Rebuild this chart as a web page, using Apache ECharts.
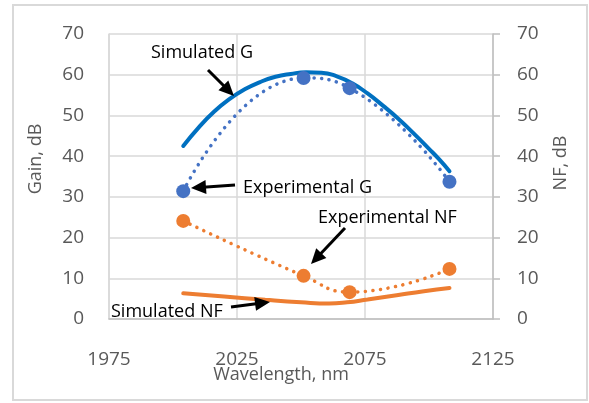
<!DOCTYPE html>
<html><head><meta charset="utf-8">
<script src="https://cdn.jsdelivr.net/npm/echarts@6/dist/echarts.min.js"></script>
<style>html,body{margin:0;padding:0;background:#fff}#c{width:589px;height:403px}</style>
</head><body><div id="c"></div><script>
// ---- data ----
var xTicks = [1975, 2025, 2075, 2125];
var yTicks = [0, 10, 20, 30, 40, 50, 60, 70];
var expWl = [2004, 2051, 2069, 2108];
var expGain = [31.4, 59.2, 56.7, 33.7];
var expNF = [24.1, 10.6, 6.6, 12.3];
var simWlG = [2004, 2010, 2016, 2022, 2028, 2034, 2040, 2046, 2052, 2058, 2064, 2070, 2076, 2082, 2088, 2094, 2100, 2104, 2108];
var simGain = [42.5, 47.0, 50.9, 54.0, 56.4, 58.2, 59.5, 60.2, 60.6, 60.5, 59.6, 57.9, 55.4, 52.4, 49.2, 45.6, 41.8, 39.2, 36.3];
var simWlNF = [2004, 2020, 2036, 2050, 2061, 2068, 2076, 2088, 2098, 2108];
var simNF = [6.3, 5.5, 4.7, 4.1, 3.8, 4.1, 4.8, 5.9, 6.8, 7.6];

function zip(a, b) { return a.map(function (v, i) { return [v, b[i]]; }); }

var FONT = 'Open Sans';
var chart = echarts.init(document.getElementById('c'));

function arrow(x1, y1, x2, y2) {
  var dx = x2 - x1, dy = y2 - y1, L = Math.sqrt(dx * dx + dy * dy);
  var ux = dx / L, uy = dy / L, hl = 15, hw = 7;
  var bx = x2 - ux * hl, by = y2 - uy * hl;
  return {
    type: 'group', z: 20, children: [
      { type: 'polyline', z: 20, shape: { points: [[x1, y1], [bx + ux * 3, by + uy * 3]] }, style: { stroke: '#000', lineWidth: 3, fill: null } },
      { type: 'polygon', z: 20, shape: { points: [[x2, y2], [bx - uy * hw, by + ux * hw], [bx + uy * hw, by - ux * hw]] }, style: { fill: '#000' } }
    ]
  };
}
function label(t, x, y, opt) {
  return Object.assign({ type: 'text', x: x, y: y, z: 20, style: { text: t, fill: '#000', font: '18px "' + FONT + '"', textVerticalAlign: 'middle' } }, opt || {});
}

var gridColor = '#d9d9d9';
var tickLabel = { color: '#595959', fontSize: 19, fontFamily: FONT, formatter: function (v) { return String(v); } };

chart.setOption({
  animation: false,
  backgroundColor: '#fff',
  grid: { left: 109, right: 96, top: 34, bottom: 84 },
  xAxis: {
    type: 'value', min: xTicks[0], max: xTicks[xTicks.length - 1], interval: 50,
    axisLine: { show: true, lineStyle: { color: '#bfbfbf', width: 1.5 } },
    axisTick: { show: false },
    axisLabel: Object.assign({ margin: 31 }, tickLabel),
    splitLine: { show: true, lineStyle: { color: gridColor, width: 1.5 } }
  },
  yAxis: [{
    type: 'value', min: yTicks[0], max: yTicks[yTicks.length - 1], interval: 10,
    axisLine: { show: true, lineStyle: { color: gridColor, width: 1.5 } },
    axisTick: { show: false },
    axisLabel: Object.assign({ margin: 25 }, tickLabel),
    splitLine: { show: true, lineStyle: { color: gridColor, width: 1.5 } }
  }, {
    type: 'value', position: 'right', min: yTicks[0], max: yTicks[yTicks.length - 1], interval: 10,
    axisLine: { show: true, lineStyle: { color: '#bfbfbf', width: 1.5 } },
    axisTick: { show: true, length: 7, lineStyle: { color: '#bfbfbf', width: 1.5 } },
    axisLabel: Object.assign({ margin: 24 }, tickLabel),
    splitLine: { show: false }
  }],
  series: [
    { name: 'Simulated G', type: 'line', smooth: true, showSymbol: false, data: zip(simWlG, simGain),
      lineStyle: { color: '#0070C0', width: 4, cap: 'round' }, z: 3 },
    { name: 'Experimental G', type: 'line', smooth: true, data: zip(expWl, expGain),
      symbol: 'circle', symbolSize: 14, itemStyle: { color: '#4472C4' },
      lineStyle: { color: '#4472C4', width: 3.5, type: [0.1, 7.5], cap: 'round' }, z: 4 },
    { name: 'Simulated NF', type: 'line', yAxisIndex: 1, smooth: true, showSymbol: false, data: zip(simWlNF, simNF),
      lineStyle: { color: '#ED7D31', width: 4, cap: 'round' }, z: 3 },
    { name: 'Experimental NF', type: 'line', yAxisIndex: 1, smooth: true, data: zip(expWl, expNF),
      symbol: 'circle', symbolSize: 14, itemStyle: { color: '#ED7D31' },
      lineStyle: { color: '#ED7D31', width: 3.5, type: [0.1, 7.5], cap: 'round' }, z: 4 }
  ],
  graphic: [
    { type: 'rect', shape: { x: 13, y: 5, width: 574, height: 395 }, style: { fill: 'none', stroke: '#d9d9d9', lineWidth: 2 }, z: 0 },
    label('Simulated G', 151, 53),
    arrow(208, 70, 234, 96),
    label('Experimental G', 243, 188),
    arrow(235, 185, 191, 188),
    label('Experimental NF', 318, 218),
    arrow(345, 228, 311, 264),
    label('Simulated NF', 111, 312),
    arrow(231, 307, 270, 302),
    { type: 'text', x: 36, y: 159, rotation: Math.PI / 2, style: { text: 'Gain, dB', fill: '#595959', font: '18px "' + FONT + '"', textAlign: 'center', textVerticalAlign: 'middle' } },
    { type: 'text', x: 561, y: 163, rotation: Math.PI / 2, style: { text: 'NF, dB', fill: '#595959', font: '18px "' + FONT + '"', textAlign: 'center', textVerticalAlign: 'middle' } },
    { type: 'text', x: 281, y: 375, style: { text: 'Wavelength, nm', fill: '#595959', font: '18px "' + FONT + '"', textAlign: 'center', textVerticalAlign: 'middle' } }
  ]
});
</script></body></html>
